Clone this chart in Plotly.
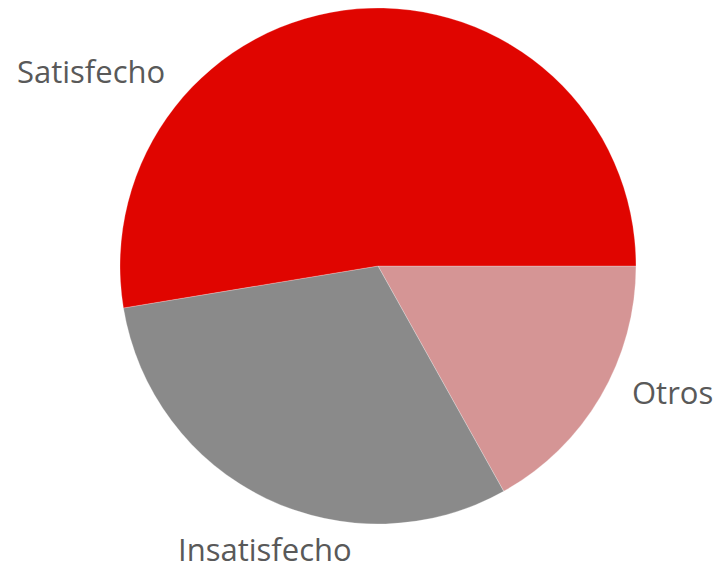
import plotly.graph_objects as go

# data (order drawn clockwise starting at 3 o'clock)
labels = ["Otros", "Insatisfecho", "Satisfecho"]
values = [16.9, 30.5, 52.6]
colors = ["#D59595", "#8A8A8A", "#E00500"]

W, H = 719, 571
cx, cy, r = 378, 266, 258

fig = go.Figure(go.Pie(
    labels=labels, values=values, sort=False,
    direction="clockwise", rotation=90,
    marker=dict(colors=colors, line=dict(color="rgba(255,255,255,0.5)", width=0.5)),
    textinfo="none", hoverinfo="label+percent", showlegend=False,
    domain=dict(x=[(cx - r) / W, (cx + r) / W], y=[1 - (cy + r) / H, 1 - (cy - r) / H]),
))

label_pos = {"Satisfecho": (91, 71), "Insatisfecho": (265, 549), "Otros": (672, 392)}
for lab in labels:
    x, y = label_pos[lab]
    fig.add_annotation(x=x / W, y=1 - y / H, xref="paper", yref="paper",
                       text=lab, showarrow=False, xanchor="center", yanchor="middle",
                       borderpad=0,
                       font=dict(family="Open Sans", size=31, color="#595959"))

fig.update_layout(width=W, height=H, margin=dict(l=0, r=0, t=0, b=0),
                  paper_bgcolor="white", plot_bgcolor="white")
fig.write_html("out.html", config={"displayModeBar": False},
               post_script="document.body.style.margin='0';document.body.style.overflow='hidden';")
